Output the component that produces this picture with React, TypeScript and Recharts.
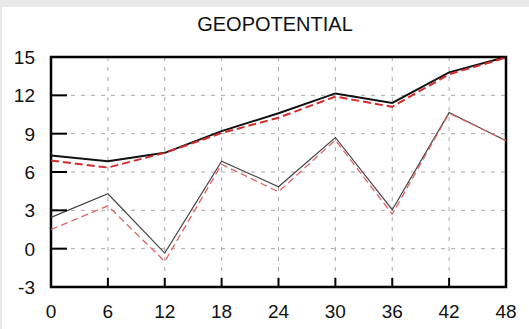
import React from 'react';
import { LineChart, Line, XAxis, YAxis, CartesianGrid, ReferenceArea } from 'recharts';

// forecast hours along the x axis
const hours = [0, 6, 12, 18, 24, 30, 36, 42, 48];
const xTicks = [0, 6, 12, 18, 24, 30, 36, 42, 48];
const yTicks = [-3, 0, 3, 6, 9, 12, 15];

// upper pair (thick lines)
const upperBlack = [7.3, 6.85, 7.5, 9.2, 10.6, 12.15, 11.4, 13.8, 15.0];
const upperRed = [6.9, 6.35, 7.5, 9.05, 10.25, 11.9, 11.1, 13.65, 14.95];
// lower pair (thin lines)
const lowerBlack = [2.45, 4.3, -0.35, 6.85, 4.85, 8.7, 3.05, 10.65, 8.45];
const lowerRed = [1.5, 3.35, -1.0, 6.6, 4.45, 8.5, 2.7, 10.6, 8.45];

const data = hours.map((h, i) => ({
  hour: h,
  upperBlack: upperBlack[i],
  upperRed: upperRed[i],
  lowerBlack: lowerBlack[i],
  lowerRed: lowerRed[i],
}));

const FONT = '"Liberation Sans", Arial, Helvetica, sans-serif';

const XTick = (props: any) => {
  const { x, y, payload } = props;
  return (
    <g>
      <line x1={x} y1={y} x2={x} y2={y - 9} stroke="#000" strokeWidth={2} />
      <text x={x} y={y + 31} textAnchor="middle" fontSize={19} fontFamily={FONT} fill="#111">
        {payload.value}
      </text>
    </g>
  );
};

const YTick = (props: any) => {
  const { x, y, payload } = props;
  return (
    <g>
      <line x1={x} y1={y} x2={x + 16} y2={y} stroke="#000" strokeWidth={2} />
      <text x={x - 16} y={y + 7} textAnchor="end" fontSize={19} fontFamily={FONT} fill="#111">
        {payload.value}
      </text>
    </g>
  );
};

export default function App() {
  return (
    <div style={{ position: 'absolute', left: 0, top: 0, width: 529, height: 329, background: '#fff', overflow: 'hidden' }}>
      <div style={{ position: 'absolute', left: 0, top: 0, width: 529, height: 7, background: '#e8e8e8' }} />
      <div style={{ position: 'absolute', left: 0, top: 0, width: 2, height: 329, background: '#e8e8e8' }} />
      <div
        style={{
          position: 'absolute',
          left: 0,
          top: 13,
          width: 550,
          textAlign: 'center',
          fontFamily: FONT,
          fontSize: 20,
          color: '#111',
        }}
      >
        GEOPOTENTIAL
      </div>
      <div style={{ position: 'absolute', left: 0, top: 0 }}>
        <LineChart width={529} height={329} data={data} margin={{ top: 57, right: 23, left: 0, bottom: 0 }}>
          <CartesianGrid stroke="#a8a8a8" strokeDasharray="4 6" strokeWidth={1} />
          <XAxis
            dataKey="hour"
            type="number"
            domain={[0, 48]}
            ticks={xTicks}
            height={42}
            axisLine={false}
            tickLine={false}
            tickSize={0}
            tickMargin={0}
            tick={<XTick />}
            interval={0}
          />
          <YAxis
            type="number"
            domain={[-3, 15]}
            ticks={yTicks}
            width={51}
            axisLine={false}
            tickLine={false}
            tickSize={0}
            tickMargin={0}
            tick={<YTick />}
            interval={0}
          />
          <Line type="linear" dataKey="lowerBlack" stroke="#444" strokeWidth={1.2} dot={false} isAnimationActive={false} />
          <Line type="linear" dataKey="lowerRed" stroke="#e06464" strokeWidth={1.3} strokeDasharray="7 4" dot={false} isAnimationActive={false} />
          <Line type="linear" dataKey="upperBlack" stroke="#111" strokeWidth={2} dot={false} isAnimationActive={false} />
          <Line type="linear" dataKey="upperRed" stroke="#d42a2a" strokeWidth={2} strokeDasharray="8 4" dot={false} isAnimationActive={false} />
          <ReferenceArea x1={0} x2={48} y1={-3} y2={15} fill="none" stroke="#000" strokeWidth={2.5} />
        </LineChart>
      </div>
    </div>
  );
}
